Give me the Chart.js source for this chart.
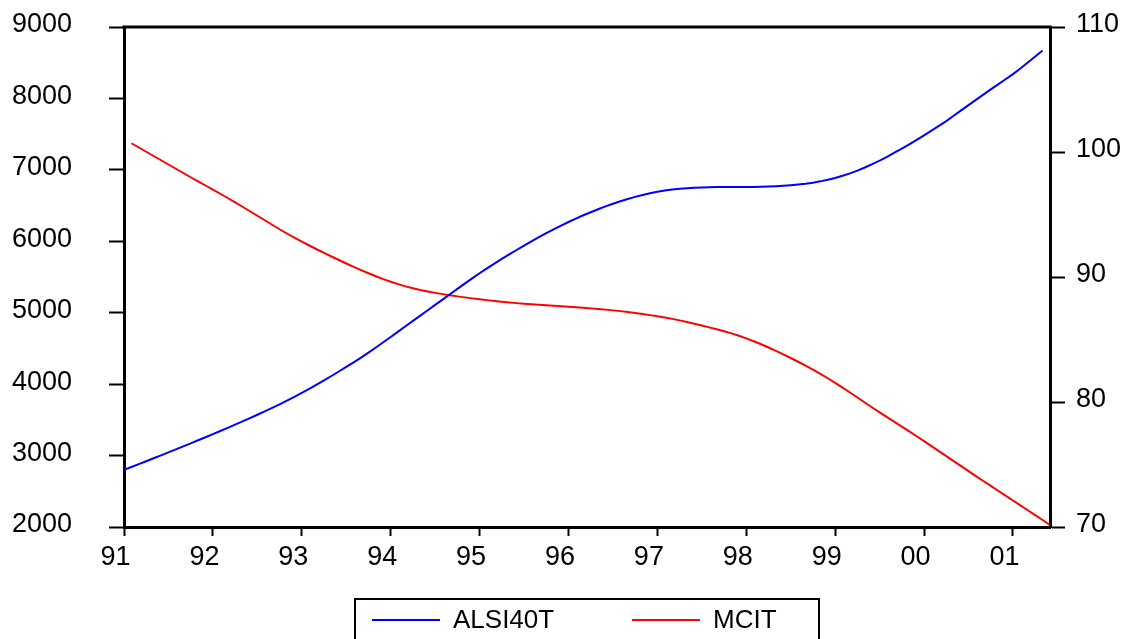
<!DOCTYPE html>
<html>
<head>
<meta charset="utf-8">
<script src="https://cdn.jsdelivr.net/npm/chart.js@4.4.1/dist/chart.umd.min.js"></script>
<style>
  html, body { margin: 0; padding: 0; background: #fff; }
  #wrap { width: 1127px; height: 639px; }
</style>
</head>
<body>
<div id="wrap"><canvas id="chart" width="1127" height="639"></canvas></div>
<script>
// monthly observations, 1991M01 .. 2001M06 (one row per year)
const alsi40t = [
  2800, 2840, 2880, 2921, 2962, 3003, 3045, 3087, 3129, 3171, 3214, 3257,
  3300, 3344, 3388, 3433, 3478, 3524, 3571, 3619, 3668, 3718, 3770, 3823,
  3878, 3934, 3992, 4052, 4114, 4177, 4241, 4306, 4372, 4442, 4513, 4586,
  4660, 4735, 4810, 4885, 4960, 5035, 5110, 5184, 5259, 5334, 5408, 5481,
  5552, 5621, 5688, 5753, 5816, 5878, 5940, 6000, 6058, 6114, 6168, 6220,
  6270, 6318, 6364, 6407, 6448, 6488, 6526, 6561, 6593, 6622, 6648, 6672,
  6693, 6711, 6725, 6736, 6744, 6750, 6754, 6757, 6759, 6760, 6760, 6760,
  6760, 6761, 6763, 6766, 6770, 6776, 6784, 6794, 6806, 6821, 6839, 6861,
  6887, 6917, 6950, 6990, 7033, 7080, 7130, 7183, 7240, 7298, 7358, 7420,
  7484, 7549, 7615, 7682, 7758, 7832, 7906, 7980, 8054, 8126, 8197, 8268,
  8340, 8420, 8502, 8586, 8670, null
];
const mcit = [
  null, 100.70, 100.36, 100.02, 99.68, 99.34, 99.00, 98.66, 98.32, 97.98, 97.65, 97.32,
  96.99, 96.66, 96.32, 95.97, 95.62, 95.26, 94.90, 94.54, 94.18, 93.82, 93.48, 93.15,
  92.83, 92.52, 92.22, 91.93, 91.64, 91.36, 91.08, 90.81, 90.55, 90.30, 90.06, 89.83,
  89.62, 89.43, 89.25, 89.10, 88.96, 88.84, 88.73, 88.63, 88.54, 88.45, 88.37, 88.29,
  88.22, 88.15, 88.08, 88.02, 87.96, 87.91, 87.86, 87.82, 87.78, 87.74, 87.70, 87.66,
  87.62, 87.58, 87.54, 87.49, 87.44, 87.39, 87.33, 87.27, 87.20, 87.12, 87.04, 86.95,
  86.86, 86.76, 86.65, 86.53, 86.40, 86.26, 86.12, 85.97, 85.82, 85.66, 85.49, 85.30,
  85.09, 84.86, 84.62, 84.36, 84.09, 83.81, 83.52, 83.22, 82.91, 82.59, 82.25, 81.90,
  81.53, 81.15, 80.76, 80.36, 79.96, 79.56, 79.17, 78.79, 78.41, 78.03, 77.65, 77.26,
  76.87, 76.47, 76.07, 75.67, 75.27, 74.87, 74.47, 74.07, 73.68, 73.29, 72.90, 72.51,
  72.12, 71.73, 71.34, 70.95, 70.56, 70.17
];
const yearLabels = ['91', '92', '93', '94', '95', '96', '97', '98', '99', '00', '01'];
const seriesNames = ['ALSI40T', 'MCIT'];
const seriesColors = ['#0000ff', '#ff0000'];
const leftTicks = [2000, 3000, 4000, 5000, 6000, 7000, 8000, 9000];
const rightTicks = [70, 80, 90, 100, 110];

const FONT = 'Liberation Sans, Arial, Helvetica, sans-serif';
const MONTHS = 12;

function toPoints(arr) {
  return arr.map((v, i) => ({ x: i, y: v }));
}

// y axes: keep the tick padding from pushing the plot down
function fixYAxis(width) {
  return s => {
    s.width = width;
    s.paddingTop = 0;
    s.paddingBottom = 0;
  };
}

// top frame line + boxed legend under the plot, like the EViews one
const frameAndLegend = {
  id: 'frameAndLegend',
  afterDraw(chart) {
    const ctx = chart.ctx;
    const a = chart.chartArea;
    ctx.save();
    ctx.strokeStyle = '#000';
    ctx.lineWidth = 3;
    ctx.beginPath();
    ctx.moveTo(a.left - 1.5, a.top);
    ctx.lineTo(a.right + 1.5, a.top);
    ctx.stroke();

    const boxW = 464;
    const cx = (a.left + a.right) / 2;
    const bx = cx - boxW / 2;
    const by = a.bottom + 72;
    ctx.lineWidth = 2;
    ctx.strokeRect(bx, by, boxW, 60);

    ctx.font = '26px ' + FONT;
    ctx.textBaseline = 'middle';
    ctx.textAlign = 'left';
    const ly = by + 21;
    chart.data.datasets.forEach((ds, i) => {
      const x0 = bx + 17 + i * 260;
      ctx.strokeStyle = ds.borderColor;
      ctx.lineWidth = 2;
      ctx.beginPath();
      ctx.moveTo(x0, ly);
      ctx.lineTo(x0 + 68, ly);
      ctx.stroke();
      ctx.fillStyle = '#000';
      ctx.fillText(ds.label, x0 + 81, ly + 1);
    });
    ctx.restore();
  }
};

new Chart(document.getElementById('chart'), {
  type: 'line',
  data: {
    datasets: [
      {
        label: seriesNames[0],
        data: toPoints(alsi40t),
        borderColor: seriesColors[0],
        yAxisID: 'y',
      },
      {
        label: seriesNames[1],
        data: toPoints(mcit),
        borderColor: seriesColors[1],
        yAxisID: 'y1',
      },
    ],
  },
  options: {
    responsive: false,
    animation: false,
    layout: { padding: { top: 27, left: 0, right: 0, bottom: 0 } },
    elements: {
      point: { radius: 0 },
      line: { borderWidth: 2, tension: 0, fill: false },
    },
    plugins: {
      legend: { display: false },
      tooltip: { enabled: false },
    },
    scales: {
      x: {
        type: 'linear',
        position: 'bottom',
        min: 0,
        max: alsi40t.length - 1,
        afterBuildTicks: s => { s.ticks = yearLabels.map((_, i) => ({ value: i * MONTHS })); },
        afterFit: s => { s.height = 112; s.paddingLeft = 0; s.paddingRight = 0; },
        grid: { drawOnChartArea: false, tickLength: 9, tickWidth: 2, tickColor: '#000' },
        border: { display: true, color: '#000', width: 3 },
        ticks: {
          color: '#000',
          font: { family: FONT, size: 27 },
          padding: 5,
          labelOffset: -8.5,
          maxRotation: 0,
          autoSkip: false,
          callback: v => yearLabels[Math.round(v / MONTHS)],
        },
      },
      y: {
        position: 'left',
        min: leftTicks[0],
        max: leftTicks[leftTicks.length - 1],
        afterBuildTicks: s => { s.ticks = leftTicks.map(v => ({ value: v })); },
        afterFit: fixYAxis(124),
        grid: { drawOnChartArea: false, tickLength: 15, tickWidth: 2, tickColor: '#000' },
        border: { display: true, color: '#000', width: 3 },
        ticks: {
          color: '#000',
          font: { family: FONT, size: 27 },
          padding: 37,
          labelOffset: -2,
          callback: v => String(v),
        },
      },
      y1: {
        position: 'right',
        min: rightTicks[0],
        max: rightTicks[rightTicks.length - 1],
        afterBuildTicks: s => { s.ticks = rightTicks.map(v => ({ value: v })); },
        afterFit: fixYAxis(77),
        grid: { drawOnChartArea: false, tickLength: 15, tickWidth: 2, tickColor: '#000' },
        border: { display: true, color: '#000', width: 3 },
        ticks: {
          color: '#000',
          font: { family: FONT, size: 27 },
          padding: 11,
          labelOffset: -2,
          callback: v => String(v),
        },
      },
    },
  },
  plugins: [frameAndLegend],
});
</script>
</body>
</html>
